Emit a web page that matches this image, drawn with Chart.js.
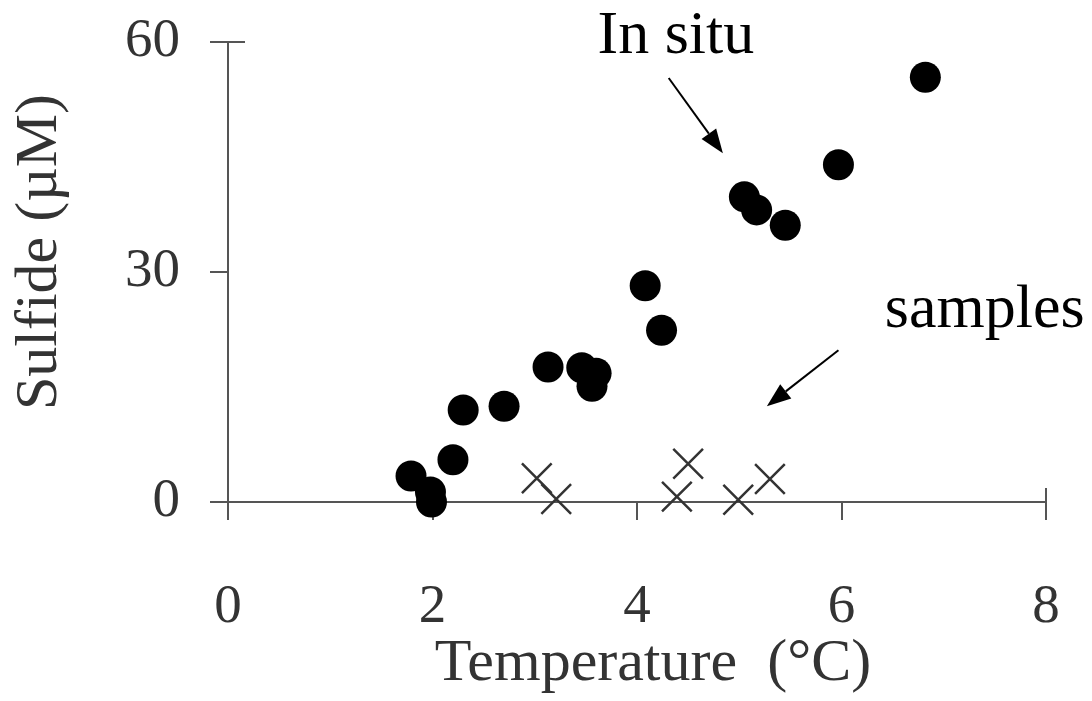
<!DOCTYPE html>
<html>
<head>
<meta charset="utf-8">
<script src="https://cdn.jsdelivr.net/npm/chart.js@4"></script>
<style>
  html, body { margin: 0; padding: 0; background: #fff; }
  #wrap { width: 1092px; height: 701px; }
</style>
</head>
<body>
<div id="wrap"><canvas id="sulfideChart"></canvas></div>
<script>
// in situ measurements (filled circles)
var inSituTemp    = [1.79, 1.98, 1.99, 2.20, 2.30, 2.70, 3.13, 3.46, 3.60, 3.56, 4.08, 4.24, 5.05, 5.17, 5.45, 5.97, 6.82];
var inSituSulfide = [3.4, 1.3, 0.0, 5.5, 12.0, 12.5, 17.6, 17.5, 16.8, 15.1, 28.2, 22.4, 39.8, 38.1, 36.1, 44.0, 55.4];

// samples (crosses)
var sampleTemp    = [3.02, 3.21, 4.50, 4.39, 4.99, 5.30];
var sampleSulfide = [3.1, 0.4, 5.0, 0.7, 0.3, 3.0];

var xTicks = [0, 2, 4, 6, 8];
var yTicks = [0, 30, 60];

var xTitle = 'Temperature  (°C)';
var yTitle = 'Sulfide (µM)';

// annotations, in data units
var labelInSitu  = { text: 'In situ', x: 4.38, y: 58.6 };
var labelSamples = { text: 'samples', x: 7.40, y: 22.8 };
var arrowInSitu  = { x1: 4.31, y1: 55.3, x2: 4.84, y2: 45.5 };
var arrowSamples = { x1: 5.97, y1: 19.8, x2: 5.27, y2: 12.5 };

var serif = "'Liberation Serif', 'Times New Roman', serif";

function toPoints(xs, ys) {
    return xs.map(function (x, i) { return { x: x, y: ys[i] }; });
}

const annotate = {
    id: 'annotate',
    afterDatasetsDraw: function (chart) {
        var ctx = chart.ctx;
        var sx = chart.scales.x, sy = chart.scales.y;
        var area = chart.chartArea;
        ctx.save();

        // extra tick stubs seen on the original (top of y, end of x)
        ctx.strokeStyle = '#555';
        ctx.lineWidth = 2;
        ctx.beginPath();
        ctx.moveTo(area.left, sy.getPixelForValue(60));
        ctx.lineTo(area.left + 17, sy.getPixelForValue(60));
        ctx.moveTo(sx.getPixelForValue(8), area.bottom);
        ctx.lineTo(sx.getPixelForValue(8), area.bottom - 14);
        ctx.stroke();

        // arrows
        ctx.strokeStyle = '#000';
        ctx.fillStyle = '#000';
        ctx.lineWidth = 2;
        [arrowInSitu, arrowSamples].forEach(function (a) {
            var x1 = sx.getPixelForValue(a.x1), y1 = sy.getPixelForValue(a.y1);
            var x2 = sx.getPixelForValue(a.x2), y2 = sy.getPixelForValue(a.y2);
            var ang = Math.atan2(y2 - y1, x2 - x1);
            var len = 24, half = 9;
            var bx = x2 - Math.cos(ang) * len, by = y2 - Math.sin(ang) * len;
            ctx.beginPath();
            ctx.moveTo(x1, y1);
            ctx.lineTo(bx, by);
            ctx.stroke();
            ctx.beginPath();
            ctx.moveTo(x2, y2);
            ctx.lineTo(bx + Math.sin(ang) * half, by - Math.cos(ang) * half);
            ctx.lineTo(bx - Math.sin(ang) * half, by + Math.cos(ang) * half);
            ctx.closePath();
            ctx.fill();
        });

        // annotation text
        ctx.font = '62px ' + serif;
        ctx.textAlign = 'center';
        ctx.textBaseline = 'alphabetic';
        [labelInSitu, labelSamples].forEach(function (l) {
            ctx.fillText(l.text, sx.getPixelForValue(l.x), sy.getPixelForValue(l.y));
        });

        // axis titles
        ctx.fillStyle = '#333';
        ctx.font = '60px ' + serif;
        ctx.fillText(xTitle, 653, 680);
        ctx.translate(56, 252);
        ctx.rotate(-Math.PI / 2);
        ctx.fillText(yTitle, 0, 0);
        ctx.restore();
    }
};

var ctxSulfide = document.getElementById('sulfideChart').getContext('2d');

const sulfideChart = new Chart(ctxSulfide, {
    type: 'scatter',
    data: {
        datasets: [
            {
                label: 'In situ',
                data: toPoints(inSituTemp, inSituSulfide),
                pointStyle: 'circle',
                pointRadius: 15.5,
                pointBorderWidth: 0,
                backgroundColor: '#000',
                borderColor: '#000',
                clip: false
            },
            {
                label: 'samples',
                data: toPoints(sampleTemp, sampleSulfide),
                pointStyle: 'crossRot',
                pointRadius: 21,
                pointBorderWidth: 2.5,
                borderColor: '#333',
                backgroundColor: '#333',
                clip: false
            }
        ]
    },
    options: {
        responsive: true,
        maintainAspectRatio: false,
        animation: false,
        events: [],
        layout: {
            padding: { top: 42, right: 46, left: 0, bottom: 0 }
        },
        plugins: {
            legend: { display: false },
            tooltip: { enabled: false }
        },
        scales: {
            x: {
                type: 'linear',
                min: 0,
                max: 8,
                afterBuildTicks: function (s) { s.ticks = xTicks.map(function (v) { return { value: v }; }); },
                afterFit: function (s) {
                    s.height = 199;
                    s.paddingLeft = 0; s.paddingRight = 0;
                },
                border: { display: true, color: '#555', width: 2 },
                grid: { drawOnChartArea: false, drawTicks: true, tickLength: 18, color: '#555', lineWidth: 2 },
                ticks: {
                    color: '#333',
                    padding: 55,
                    maxRotation: 0,
                    font: { family: serif, size: 55 }
                }
            },
            y: {
                type: 'linear',
                min: 0,
                max: 60,
                afterBuildTicks: function (s) { s.ticks = yTicks.map(function (v) { return { value: v }; }); },
                afterFit: function (s) {
                    s.width = 228;
                    s.paddingTop = 0; s.paddingBottom = 0;
                },
                border: { display: true, color: '#555', width: 2 },
                grid: { drawOnChartArea: false, drawTicks: true, tickLength: 18, color: '#555', lineWidth: 2 },
                ticks: {
                    color: '#333',
                    padding: 30,
                    font: { family: serif, size: 55 }
                }
            }
        }
    },
    plugins: [annotate]
});
</script>
</body>
</html>
